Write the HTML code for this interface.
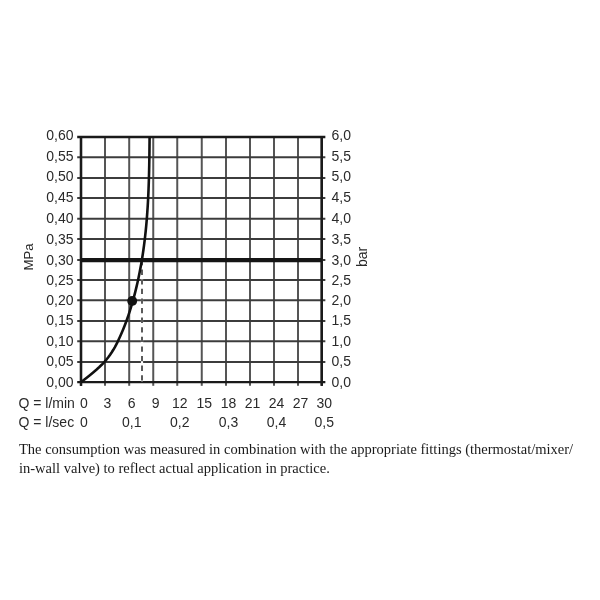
<!DOCTYPE html><html><head><meta charset="utf-8"><style>html,body{margin:0;padding:0;background:#fff;width:600px;height:600px;overflow:hidden}.s{font-family:"Liberation Sans",sans-serif;fill:#2a2a2a}.p{position:absolute;left:19px;top:440.2px;width:580px;font-family:"Liberation Serif",serif;font-size:14.5px;line-height:19.3px;color:#1a1a1a;white-space:nowrap;will-change:transform}</style></head><body>
<svg width="600" height="600" viewBox="0 0 600 600" style="position:absolute;left:0;top:0;will-change:transform">
<line x1="81.00" y1="136.00" x2="81.00" y2="385.80" stroke="#1a1a1a" stroke-width="2.3"/>
<line x1="105.00" y1="136.00" x2="105.00" y2="385.80" stroke="#555" stroke-width="2.0"/>
<line x1="129.20" y1="136.00" x2="129.20" y2="385.80" stroke="#555" stroke-width="2.0"/>
<line x1="153.25" y1="136.00" x2="153.25" y2="385.80" stroke="#555" stroke-width="2.0"/>
<line x1="177.25" y1="136.00" x2="177.25" y2="385.80" stroke="#555" stroke-width="2.0"/>
<line x1="201.75" y1="136.00" x2="201.75" y2="385.80" stroke="#555" stroke-width="2.0"/>
<line x1="226.00" y1="136.00" x2="226.00" y2="385.80" stroke="#555" stroke-width="2.0"/>
<line x1="250.00" y1="136.00" x2="250.00" y2="385.80" stroke="#555" stroke-width="2.0"/>
<line x1="274.00" y1="136.00" x2="274.00" y2="385.80" stroke="#555" stroke-width="2.0"/>
<line x1="298.00" y1="136.00" x2="298.00" y2="385.80" stroke="#555" stroke-width="2.0"/>
<line x1="321.75" y1="136.00" x2="321.75" y2="385.80" stroke="#1a1a1a" stroke-width="2.3"/>
<line x1="77.20" y1="137.00" x2="325.35" y2="137.00" stroke="#1a1a1a" stroke-width="2.3"/>
<line x1="77.20" y1="157.20" x2="325.35" y2="157.20" stroke="#3c3c3c" stroke-width="2.0"/>
<line x1="77.20" y1="177.90" x2="325.35" y2="177.90" stroke="#3c3c3c" stroke-width="2.0"/>
<line x1="77.20" y1="198.10" x2="325.35" y2="198.10" stroke="#3c3c3c" stroke-width="2.0"/>
<line x1="77.20" y1="218.80" x2="325.35" y2="218.80" stroke="#3c3c3c" stroke-width="2.0"/>
<line x1="77.20" y1="239.10" x2="325.35" y2="239.10" stroke="#3c3c3c" stroke-width="2.0"/>
<line x1="77.20" y1="260.10" x2="325.35" y2="260.10" stroke="#3c3c3c" stroke-width="2.0"/>
<line x1="77.20" y1="280.00" x2="325.35" y2="280.00" stroke="#3c3c3c" stroke-width="2.0"/>
<line x1="77.20" y1="300.20" x2="325.35" y2="300.20" stroke="#3c3c3c" stroke-width="2.0"/>
<line x1="77.20" y1="320.90" x2="325.35" y2="320.90" stroke="#3c3c3c" stroke-width="2.0"/>
<line x1="77.20" y1="341.20" x2="325.35" y2="341.20" stroke="#3c3c3c" stroke-width="2.0"/>
<line x1="77.20" y1="362.00" x2="325.35" y2="362.00" stroke="#3c3c3c" stroke-width="2.0"/>
<line x1="77.20" y1="382.20" x2="325.35" y2="382.20" stroke="#1a1a1a" stroke-width="2.3"/>
<line x1="81.00" y1="136.00" x2="81.00" y2="385.80" stroke="#1a1a1a" stroke-width="2.3"/>
<line x1="321.75" y1="136.00" x2="321.75" y2="385.80" stroke="#1a1a1a" stroke-width="2.3"/>
<line x1="81.00" y1="260.10" x2="322.00" y2="260.10" stroke="#151515" stroke-width="4.2"/>
<line x1="142" y1="262" x2="142" y2="381.3" stroke="#fff" stroke-width="2.2"/>
<line x1="142" y1="260" x2="142" y2="381.3" stroke="#333" stroke-width="1.6" stroke-dasharray="5.3 4.3"/>
<path d="M80.90,382.30 L84.15,379.80 L87.34,377.30 L90.45,374.80 L93.46,372.30 L96.35,369.80 L99.10,367.30 L101.68,364.80 L104.07,362.30 L106.27,359.80 L108.27,357.30 L110.10,354.80 L111.77,352.30 L113.32,349.80 L114.75,347.30 L116.09,344.80 L117.36,342.30 L118.57,339.80 L119.74,337.30 L120.87,334.80 L121.96,332.30 L123.02,329.80 L124.03,327.30 L125.01,324.80 L125.95,322.30 L126.69,320.30 L128.33,315.60 L129.87,310.90 L131.32,306.20 L132.69,301.50 L133.98,296.80 L135.21,292.10 L136.37,287.40 L137.46,282.70 L138.49,278.00 L139.45,273.30 L140.36,268.60 L141.21,263.90 L142.00,259.20 L142.74,254.50 L143.43,249.80 L144.06,245.10 L144.65,240.40 L145.20,235.70 L145.70,231.00 L146.16,226.30 L146.58,221.60 L146.96,216.90 L147.30,212.20 L147.62,207.50 L147.90,202.80 L148.15,198.10 L148.37,193.40 L148.56,188.70 L148.74,184.00 L148.89,179.30 L149.02,174.60 L149.13,169.90 L149.23,165.20 L149.31,160.50 L149.39,155.80 L149.45,151.10 L149.50,146.40 L149.55,141.70 L149.59,137.00" fill="none" stroke="#111" stroke-width="2.6" stroke-linecap="butt" stroke-linejoin="round"/>
<circle cx="132.2" cy="300.9" r="4.95" fill="#111"/>
<text class="s" x="73.5" y="140.30" font-size="14" text-anchor="end">0,60</text>
<text class="s" x="331.5" y="140.30" font-size="14">6,0</text>
<text class="s" x="73.5" y="160.94" font-size="14" text-anchor="end">0,55</text>
<text class="s" x="331.5" y="160.94" font-size="14">5,5</text>
<text class="s" x="73.5" y="181.48" font-size="14" text-anchor="end">0,50</text>
<text class="s" x="331.5" y="181.48" font-size="14">5,0</text>
<text class="s" x="73.5" y="202.12" font-size="14" text-anchor="end">0,45</text>
<text class="s" x="331.5" y="202.12" font-size="14">4,5</text>
<text class="s" x="73.5" y="223.07" font-size="14" text-anchor="end">0,40</text>
<text class="s" x="331.5" y="223.07" font-size="14">4,0</text>
<text class="s" x="73.5" y="243.91" font-size="14" text-anchor="end">0,35</text>
<text class="s" x="331.5" y="243.91" font-size="14">3,5</text>
<text class="s" x="73.5" y="264.65" font-size="14" text-anchor="end">0,30</text>
<text class="s" x="331.5" y="264.65" font-size="14">3,0</text>
<text class="s" x="73.5" y="284.89" font-size="14" text-anchor="end">0,25</text>
<text class="s" x="331.5" y="284.89" font-size="14">2,5</text>
<text class="s" x="73.5" y="305.03" font-size="14" text-anchor="end">0,20</text>
<text class="s" x="331.5" y="305.03" font-size="14">2,0</text>
<text class="s" x="73.5" y="325.28" font-size="14" text-anchor="end">0,15</text>
<text class="s" x="331.5" y="325.28" font-size="14">1,5</text>
<text class="s" x="73.5" y="345.72" font-size="14" text-anchor="end">0,10</text>
<text class="s" x="331.5" y="345.72" font-size="14">1,0</text>
<text class="s" x="73.5" y="366.16" font-size="14" text-anchor="end">0,05</text>
<text class="s" x="331.5" y="366.16" font-size="14">0,5</text>
<text class="s" x="73.5" y="386.60" font-size="14" text-anchor="end">0,00</text>
<text class="s" x="331.5" y="386.60" font-size="14">0,0</text>
<text class="s" font-size="13.2" text-anchor="middle" transform="translate(33.3,257) rotate(-90)">MPa</text>
<text class="s" font-size="14" text-anchor="middle" transform="translate(367,257) rotate(-90)">bar</text>
<text class="s" x="18.5" y="408.3" font-size="14">Q = l/min</text>
<text class="s" x="18.5" y="427" font-size="14">Q = l/sec</text>
<text class="s" x="80" y="408.3" font-size="14">0</text>
<text class="s" x="107.50" y="408.3" font-size="14" text-anchor="middle">3</text>
<text class="s" x="131.70" y="408.3" font-size="14" text-anchor="middle">6</text>
<text class="s" x="155.75" y="408.3" font-size="14" text-anchor="middle">9</text>
<text class="s" x="179.75" y="408.3" font-size="14" text-anchor="middle">12</text>
<text class="s" x="204.25" y="408.3" font-size="14" text-anchor="middle">15</text>
<text class="s" x="228.50" y="408.3" font-size="14" text-anchor="middle">18</text>
<text class="s" x="252.50" y="408.3" font-size="14" text-anchor="middle">21</text>
<text class="s" x="276.50" y="408.3" font-size="14" text-anchor="middle">24</text>
<text class="s" x="300.50" y="408.3" font-size="14" text-anchor="middle">27</text>
<text class="s" x="324.25" y="408.3" font-size="14" text-anchor="middle">30</text>
<text class="s" x="80" y="427" font-size="14">0</text>
<text class="s" x="131.70" y="427" font-size="14" text-anchor="middle">0,1</text>
<text class="s" x="179.75" y="427" font-size="14" text-anchor="middle">0,2</text>
<text class="s" x="228.50" y="427" font-size="14" text-anchor="middle">0,3</text>
<text class="s" x="276.50" y="427" font-size="14" text-anchor="middle">0,4</text>
<text class="s" x="324.25" y="427" font-size="14" text-anchor="middle">0,5</text>
</svg>
<div class="p">The consumption was measured in combination with the appropriate fittings (thermostat/mixer/<br>in-wall valve) to reflect actual application in practice.</div>
</body></html>
